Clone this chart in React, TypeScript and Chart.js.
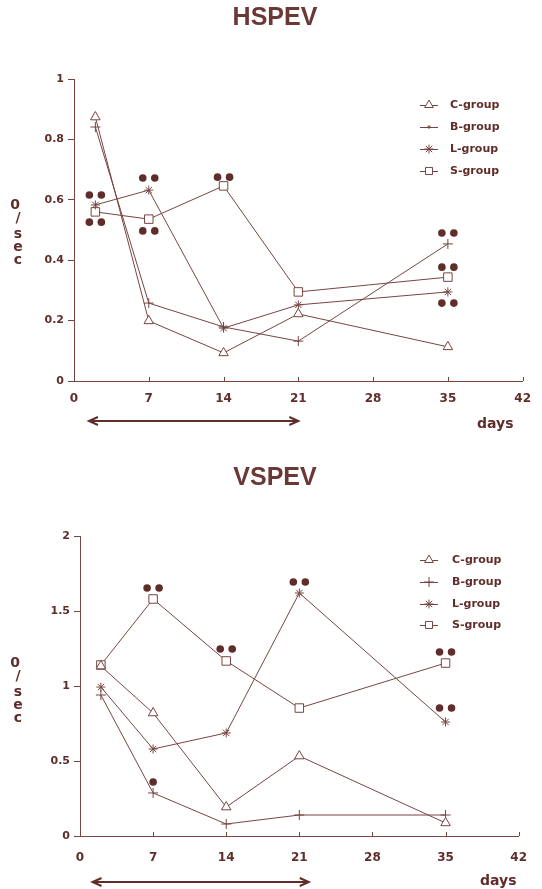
import React, { useEffect, useRef } from "react";
import { Chart, registerables } from "chart.js";
import { drawPoint } from "chart.js/helpers";

Chart.register(...registerables);

// ---------- data ----------
const days = [2, 7, 14, 21, 35];
const xTickValues = [0, 7, 14, 21, 28, 35, 42];
const groupNames = ["C-group", "B-group", "L-group", "S-group"];
const groupStyles = ["triangle", "cross", "star", "rect"];

// HSPEV (top)
const hspevC = [0.874, 0.199, 0.093, 0.222, 0.113];
const hspevB = [0.841, 0.258, 0.179, 0.132, 0.454];
const hspevL = [0.583, 0.632, 0.175, 0.252, 0.295];
const hspevS = [0.56, 0.536, 0.646, 0.295, 0.344];
const hspevSigDays = [2, 2, 7, 7, 14, 35, 35, 35];
const hspevSigValues = [0.616, 0.526, 0.672, 0.497, 0.675, 0.49, 0.377, 0.258];
const hspevSigCount = [2, 2, 2, 2, 2, 2, 2, 2];
const hspevYTicks = [0, 0.2, 0.4, 0.6, 0.8, 1];
const hspevArrowDays = [1.4, 21];

// VSPEV (bottom)
const vspevC = [1.133, 0.82, 0.193, 0.533, 0.087];
const vspevB = [0.94, 0.287, 0.08, 0.14, 0.14];
const vspevL = [0.993, 0.58, 0.687, 1.62, 0.76];
const vspevS = [1.14, 1.58, 1.167, 0.853, 1.153];
const vspevSigDays = [7, 7, 14, 21, 35, 35];
const vspevSigValues = [1.653, 0.36, 1.247, 1.693, 1.227, 0.853];
const vspevSigCount = [2, 1, 2, 2, 2, 2];
const vspevYTicks = [0, 0.5, 1, 1.5, 2];
const vspevArrowDays = [1.2, 21.9];

const LINE = "#774541";
const INK = "#5f2d2a";
const BG = "#ffffff";
const TICK_FONT = "DejaVu Sans";

type Panel = {
  title: string;
  series: number[][];
  sigDays: number[];
  sigValues: number[];
  sigCount: number[];
  yTicks: number[];
  arrowDays: number[];
  height: number;
  padTop: number;
  padRight: number;
  yWidth: number;
  xHeight: number;
  xLabelPad: number;
  titleX: number;
  titleY: number;
  legendLineX: [number, number];
  legendTextX: number;
  legendY: number[];
  legendRadiusB: number;
  yLetters: { t: string; x: number; y: number }[];
  daysX: number;
  daysY: number;
  arrowY: number;
};

const panels: Panel[] = [
  {
    title: "HSPEV",
    series: [hspevC, hspevB, hspevL, hspevS],
    sigDays: hspevSigDays,
    sigValues: hspevSigValues,
    sigCount: hspevSigCount,
    yTicks: hspevYTicks,
    arrowDays: hspevArrowDays,
    height: 445,
    padTop: 79,
    padRight: 10,
    yWidth: 74,
    xHeight: 64,
    xLabelPad: 11,
    titleX: 275,
    titleY: 18,
    legendLineX: [420, 438],
    legendTextX: 450,
    legendY: [105, 127, 149, 171],
    legendRadiusB: 2,
    yLetters: [
      { t: "0", x: 15, y: 205 },
      { t: "/", x: 18, y: 218 },
      { t: "s", x: 18, y: 234 },
      { t: "e", x: 18, y: 247 },
      { t: "c", x: 18, y: 260 },
    ],
    daysX: 477,
    daysY: 424,
    arrowY: 421,
  },
  {
    title: "VSPEV",
    series: [vspevC, vspevB, vspevL, vspevS],
    sigDays: vspevSigDays,
    sigValues: vspevSigValues,
    sigCount: vspevSigCount,
    yTicks: vspevYTicks,
    arrowDays: vspevArrowDays,
    height: 444,
    padTop: 91,
    padRight: 6,
    yWidth: 80,
    xHeight: 53,
    xLabelPad: 15,
    titleX: 275,
    titleY: 33,
    legendLineX: [420, 438],
    legendTextX: 452,
    legendY: [115, 137, 159, 180],
    legendRadiusB: 5,
    yLetters: [
      { t: "0", x: 15, y: 218 },
      { t: "/", x: 18, y: 231 },
      { t: "s", x: 18, y: 247 },
      { t: "e", x: 18, y: 260 },
      { t: "c", x: 18, y: 273 },
    ],
    daysX: 480,
    daysY: 436,
    arrowY: 437,
  },
];

const radii = [5.5, 5, 4.5, 6];

function ChartPanel({ p, top }: { p: Panel; top: number }) {
  const ref = useRef<HTMLCanvasElement | null>(null);
  useEffect(() => {
    if (!ref.current) return;
    const yMax = p.yTicks[p.yTicks.length - 1];
    const datasets = p.series.map((vals, i) => ({
      label: groupNames[i],
      data: days.map((d, j) => ({ x: d, y: vals[j] })),
      borderColor: LINE,
      borderWidth: 1,
      backgroundColor: BG,
      pointStyle: groupStyles[i] as any,
      pointRadius: radii[i],
      pointBorderColor: LINE,
      pointBackgroundColor: BG,
      pointBorderWidth: 1,
      tension: 0,
      fill: false,
      showLine: true,
    }));

    const extras = {
      id: "extras",
      afterDraw(chart: any) {
        const ctx = chart.ctx as CanvasRenderingContext2D;
        const xs = chart.scales.x;
        const ys = chart.scales.y;
        const area = chart.chartArea;
        ctx.save();
        // x tick marks (pointing up)
        ctx.strokeStyle = LINE;
        ctx.lineWidth = 1;
        xTickValues.forEach((v) => {
          const px = Math.round(xs.getPixelForValue(v)) + 0.5;
          ctx.beginPath();
          ctx.moveTo(px, area.bottom);
          ctx.lineTo(px, area.bottom - 4);
          ctx.stroke();
        });
        // significance dots
        ctx.fillStyle = INK;
        p.sigDays.forEach((d, i) => {
          const cx = xs.getPixelForValue(d);
          const cy = ys.getPixelForValue(p.sigValues[i]);
          const offs = p.sigCount[i] === 2 ? [-6, 6] : [0];
          offs.forEach((o) => {
            ctx.beginPath();
            ctx.arc(cx + o, cy, 3.8, 0, Math.PI * 2);
            ctx.fill();
          });
        });
        // title
        ctx.fillStyle = "#6a3936";
        ctx.font = "bold 25px 'Liberation Sans', Arial, sans-serif";
        ctx.textAlign = "center";
        ctx.textBaseline = "middle";
        ctx.fillText(p.title, p.titleX, p.titleY);
        // legend
        groupNames.forEach((name, i) => {
          const y = p.legendY[i];
          ctx.strokeStyle = LINE;
          ctx.lineWidth = 1;
          ctx.beginPath();
          ctx.moveTo(p.legendLineX[0], y + 0.5);
          ctx.lineTo(p.legendLineX[1], y + 0.5);
          ctx.stroke();
          ctx.fillStyle = BG;
          const r = i === 1 ? p.legendRadiusB : Math.min(radii[i], 5);
          drawPoint(
            ctx,
            { pointStyle: groupStyles[i], rotation: 0, radius: r, borderWidth: 1 } as any,
            (p.legendLineX[0] + p.legendLineX[1]) / 2,
            y
          );
          ctx.fillStyle = INK;
          ctx.font = `bold 11px '${TICK_FONT}', sans-serif`;
          ctx.textAlign = "left";
          ctx.textBaseline = "middle";
          ctx.fillText(name, p.legendTextX, y);
        });
        // y axis letters
        ctx.fillStyle = INK;
        ctx.font = `bold 14px '${TICK_FONT}', sans-serif`;
        ctx.textAlign = "center";
        ctx.textBaseline = "middle";
        p.yLetters.forEach((l) => ctx.fillText(l.t, l.x, l.y));
        // days
        ctx.font = `bold 14px '${TICK_FONT}', sans-serif`;
        ctx.textAlign = "left";
        ctx.fillText("days", p.daysX, p.daysY);
        // arrow
        const ax1 = xs.getPixelForValue(p.arrowDays[0]);
        const ax2 = xs.getPixelForValue(p.arrowDays[1]);
        const ay = p.arrowY;
        ctx.strokeStyle = INK;
        ctx.lineWidth = 2;
        ctx.beginPath();
        ctx.moveTo(ax1, ay);
        ctx.lineTo(ax2, ay);
        ctx.moveTo(ax1 + 9, ay - 4);
        ctx.lineTo(ax1, ay);
        ctx.lineTo(ax1 + 9, ay + 4);
        ctx.moveTo(ax2 - 9, ay - 4);
        ctx.lineTo(ax2, ay);
        ctx.lineTo(ax2 - 9, ay + 4);
        ctx.stroke();
        ctx.restore();
      },
    };

    const chart = new Chart(ref.current, {
      type: "scatter",
      data: { datasets },
      options: {
        animation: false,
        responsive: false,
        devicePixelRatio: 1,
        layout: { padding: { top: p.padTop, right: p.padRight, left: 0, bottom: 0 } },
        plugins: {
          legend: { display: false },
          tooltip: { enabled: false },
          title: { display: false },
        },
        scales: {
          x: {
            type: "linear",
            min: 0,
            max: 42,
            afterBuildTicks: (s: any) => {
              s.ticks = xTickValues.map((v) => ({ value: v }));
            },
            afterFit: (s: any) => {
              s.height = p.xHeight;
            },
            grid: { display: false, drawTicks: false },
            border: { display: true, color: LINE, width: 1 },
            ticks: {
              padding: p.xLabelPad,
              color: INK,
              font: { family: TICK_FONT, size: 12, weight: "bold" },
              maxRotation: 0,
              autoSkip: false,
              callback: (v: any) => String(v),
            },
          },
          y: {
            type: "linear",
            min: 0,
            max: yMax,
            afterBuildTicks: (s: any) => {
              s.ticks = p.yTicks.map((v) => ({ value: v }));
            },
            afterFit: (s: any) => {
              s.width = p.yWidth;
            },
            grid: {
              display: true,
              drawOnChartArea: false,
              drawTicks: true,
              tickLength: 6,
              color: LINE,
            },
            border: { display: true, color: LINE, width: 1 },
            ticks: {
              padding: 4,
              color: INK,
              font: { family: TICK_FONT, size: 11, weight: "bold" },
              autoSkip: false,
              callback: (v: any) => String(Number(Number(v).toFixed(2))),
            },
          },
        },
      } as any,
      plugins: [extras],
    });
    return () => chart.destroy();
  }, [p]);

  return (
    <div style={{ position: "absolute", left: 0, top, width: 542, height: p.height }}>
      <canvas ref={ref} width={542} height={p.height} style={{ width: 542, height: p.height, display: "block" }} />
    </div>
  );
}

export default function App() {
  return (
    <div
      style={{
        position: "fixed",
        left: 0,
        top: 0,
        width: 542,
        height: 889,
        background: BG,
        overflow: "hidden",
      }}
    >
      <ChartPanel p={panels[0]} top={0} />
      <ChartPanel p={panels[1]} top={445} />
    </div>
  );
}
